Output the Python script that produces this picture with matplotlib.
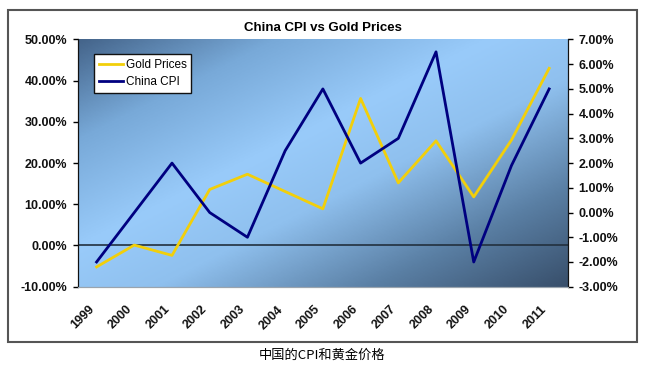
import numpy as np
import matplotlib.pyplot as plt
from matplotlib.colors import LinearSegmentedColormap
from matplotlib.patches import Rectangle
from matplotlib.lines import Line2D
import matplotlib.transforms as mtransforms

years = ['1999', '2000', '2001', '2002', '2003', '2004', '2005',
         '2006', '2007', '2008', '2009', '2010', '2011']
gold = [-5.2, 0.1, -2.4, 13.6, 17.3, 13.1, 8.9,
        35.7, 15.2, 25.4, 11.8, 25.6, 43.0]
cpi = [-2.0, 0.0, 2.0, 0.0, -1.0, 2.5, 5.0,
       2.0, 3.0, 6.5, -2.0, 1.9, 5.0]

left_ticks = [-10, 0, 10, 20, 30, 40, 50]
right_ticks = [-3, -2, -1, 0, 1, 2, 3, 4, 5, 6, 7]

plt.rcParams['font.family'] = ['Liberation Sans', 'DejaVu Sans']

fig = plt.figure(figsize=(6.46, 3.67), dpi=100)

# outer chart frame
frame = Rectangle((0.0124, 0.068), 0.9736, 0.9048, transform=fig.transFigure,
                  facecolor='white', edgecolor='#555555', linewidth=1.5, zorder=-5)
fig.patches.append(frame)

ax = fig.add_axes([0.1203, 0.2188, 0.759, 0.6736])
ax2 = ax.twinx()

# diagonal gradient: dark corners top-left / bottom-right, light band across
u = np.linspace(0, 1, 300)
v = np.linspace(0, 1, 200)
U, V = np.meshgrid(u, v)
t = (U + V) / 2
cmap = LinearSegmentedColormap.from_list(
    'bg', [(0.0, '#44648a'), (0.2, '#78a9d8'), (0.42, '#99cbfa'),
           (0.58, '#8fc0ee'), (0.8, '#5a7fa4'), (1.0, '#384f6b')])
ax.imshow(t, cmap=cmap, extent=[0, 1, 0, 1], transform=ax.transAxes,
          aspect='auto', origin='upper', zorder=0, vmin=0, vmax=1)

x = np.arange(len(years))
ax.axhline(0, color='#22303e', linewidth=1.2, zorder=1)
ax.plot(x, gold, color='#f2cf0a', linewidth=2, zorder=2)
ax2.plot(x, cpi, color='#000080', linewidth=2, zorder=3)

ax.set_xlim(-0.5, len(years) - 0.5)
ax.set_ylim(-10, 50)
ax2.set_ylim(-3, 7)

ax.set_yticks(left_ticks)
ax.set_yticklabels([f'{v:.2f}%' for v in left_ticks])
ax2.set_yticks(right_ticks)
ax2.set_yticklabels([f'{v:.2f}%' for v in right_ticks])

ax.set_xticks(x)
ax.set_xticklabels(years, rotation=45, ha='right')
offset = mtransforms.ScaledTranslation(-5 / 100, 0, fig.dpi_scale_trans)
for lab in ax.get_xticklabels():
    lab.set_transform(lab.get_transform() + offset)

ax.tick_params(axis='x', length=0, pad=12, labelsize=9)
ax.tick_params(axis='y', direction='out', length=3.5, width=1, pad=4, labelsize=9)
ax2.tick_params(axis='y', direction='out', length=3.5, width=1, pad=4, labelsize=9)
for lab in ax.get_xticklabels() + ax.get_yticklabels() + ax2.get_yticklabels():
    lab.set_fontweight('bold')
    lab.set_color('#111111')

for a in (ax, ax2):
    a.spines['top'].set_visible(False)
    a.spines['bottom'].set_color('#9aa4ae')
    a.spines['left'].set_color('#111111')
    a.spines['right'].set_color('#111111')

handles = [Line2D([], [], color='#f2cf0a', linewidth=2),
           Line2D([], [], color='#000080', linewidth=2)]
leg = ax2.legend(handles, ['Gold Prices', 'China CPI'], loc='upper left',
                 bbox_to_anchor=(0.033, 0.941), borderaxespad=0, fontsize=8.5,
                 fancybox=False, framealpha=1, edgecolor='#111111',
                 handlelength=2.1, handletextpad=0.2, borderpad=0.4,
                 labelspacing=0.45)
leg.get_frame().set_linewidth(1)

fig.text(0.4992, 0.925, 'China CPI vs Gold Prices', ha='center', va='center',
         fontsize=9.5, fontweight='bold')
fig.text(0.4992, 0.033, '中国的CPI和黄金价格', ha='center', va='center',
         fontsize=9.5, family=['Noto Sans CJK SC', 'DejaVu Sans'])

fig.savefig('out.png', dpi=100)
